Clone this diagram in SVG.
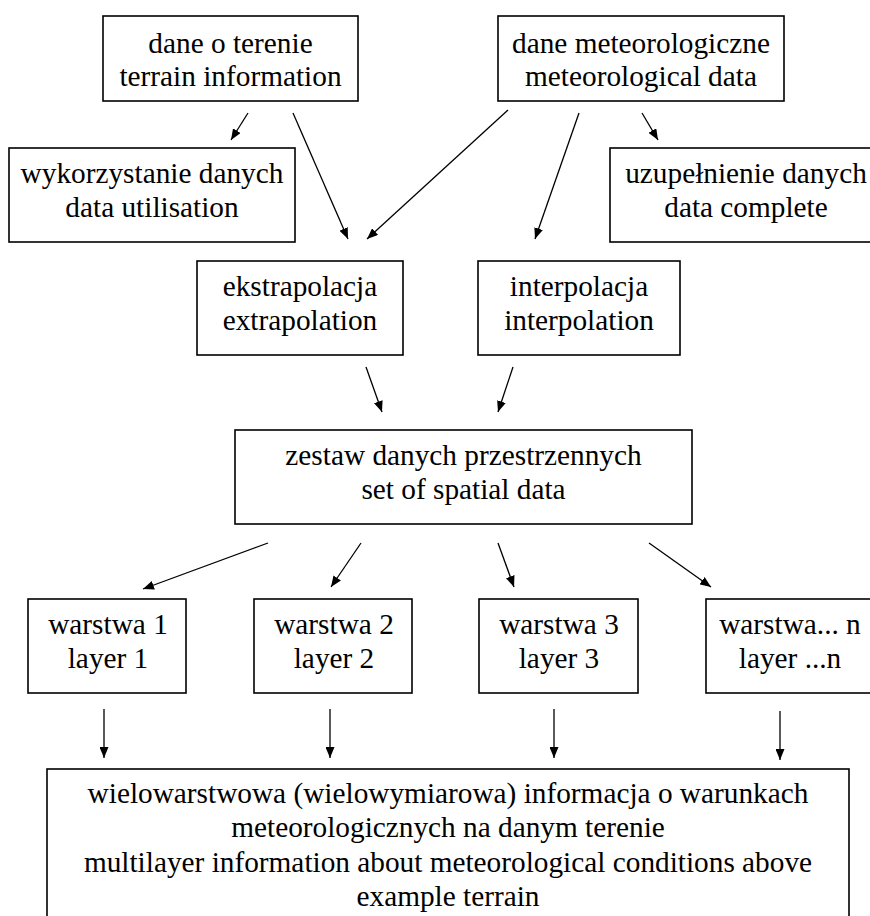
<svg xmlns="http://www.w3.org/2000/svg" width="870" height="916" viewBox="0 0 870 916">
<defs>
<marker id="ah" markerUnits="userSpaceOnUse" markerWidth="11" markerHeight="9" refX="11" refY="4.5" orient="auto">
<path d="M0,0 L11,4.5 L0,9 z" fill="#000"/>
</marker>
<style>
.box{fill:#fff;stroke:#000;stroke-width:1.6}
text{font-family:'Liberation Serif',Tinos,'Times New Roman',Times,serif;font-size:29.3px;fill:#000;text-anchor:middle}
.c line{stroke:#000;stroke-width:1.3;marker-end:url(#ah)}
</style>
</defs>
<rect width="870" height="916" fill="#fff"/>
<g font-family="Liberation Serif, Tinos, Times New Roman, serif">
<g id="terrain">
<rect class="box" x="103" y="16" width="255" height="85"/>
<text x="230.5" y="53">dane o terenie</text>
<text x="230.5" y="86">terrain information</text>
</g>
<g id="meteo">
<rect class="box" x="498" y="16" width="286" height="85"/>
<text x="641" y="53">dane meteorologiczne</text>
<text x="641" y="86">meteorological data</text>
</g>
<g id="utilisation">
<rect class="box" x="9" y="148" width="286" height="94"/>
<text x="152" y="183">wykorzystanie danych</text>
<text x="152" y="217">data utilisation</text>
</g>
<g id="complete">
<rect class="box" x="610" y="148" width="272" height="94"/>
<text x="746" y="183">uzupełnienie danych</text>
<text x="746" y="217">data complete</text>
</g>
<g id="extrapolation">
<rect class="box" x="197" y="261" width="206" height="94"/>
<text x="300" y="296">ekstrapolacja</text>
<text x="300" y="330">extrapolation</text>
</g>
<g id="interpolation">
<rect class="box" x="478" y="261" width="202" height="94"/>
<text x="579" y="296">interpolacja</text>
<text x="579" y="330">interpolation</text>
</g>
<g id="spatial">
<rect class="box" x="235" y="430" width="457" height="94"/>
<text x="463.5" y="465">zestaw danych przestrzennych</text>
<text x="463.5" y="499">set of spatial data</text>
</g>
<g id="layer1">
<rect class="box" x="28" y="599" width="158" height="94"/>
<text x="108" y="634">warstwa 1</text>
<text x="108" y="668">layer 1</text>
</g>
<g id="layer2">
<rect class="box" x="254" y="599" width="158" height="94"/>
<text x="334" y="634">warstwa 2</text>
<text x="334" y="668">layer 2</text>
</g>
<g id="layer3">
<rect class="box" x="479" y="599" width="159" height="94"/>
<text x="559" y="634">warstwa 3</text>
<text x="559" y="668">layer 3</text>
</g>
<g id="layern">
<rect class="box" x="706" y="599" width="168" height="94"/>
<text x="790" y="634">warstwa... n</text>
<text x="790" y="668">layer ...n</text>
</g>
<g id="result">
<rect class="box" x="47" y="769" width="802" height="160"/>
<text x="448" y="803">wielowarstwowa (wielowymiarowa) informacja o warunkach</text>
<text x="448" y="837">meteorologicznych na danym terenie</text>
<text x="448" y="872">multilayer information about meteorological conditions above</text>
<text x="448" y="906">example terrain</text>
</g>
</g>
<g id="connectors" class="c">
<line x1="248" y1="113" x2="231" y2="140"/>
<line x1="293" y1="113" x2="348" y2="239"/>
<line x1="508" y1="110" x2="367" y2="239"/>
<line x1="579" y1="113" x2="535" y2="239"/>
<line x1="642" y1="113" x2="658" y2="140"/>
<line x1="366" y1="367" x2="382" y2="412"/>
<line x1="513" y1="367" x2="498" y2="412"/>
<line x1="268" y1="543" x2="143" y2="589"/>
<line x1="361" y1="543" x2="331" y2="587"/>
<line x1="498" y1="543" x2="514" y2="587"/>
<line x1="649" y1="543" x2="711" y2="587"/>
<line x1="104" y1="709" x2="104" y2="758"/>
<line x1="330" y1="709" x2="330" y2="758"/>
<line x1="554" y1="709" x2="554" y2="758"/>
<line x1="780" y1="711" x2="780" y2="760"/>
</g>
</svg>
